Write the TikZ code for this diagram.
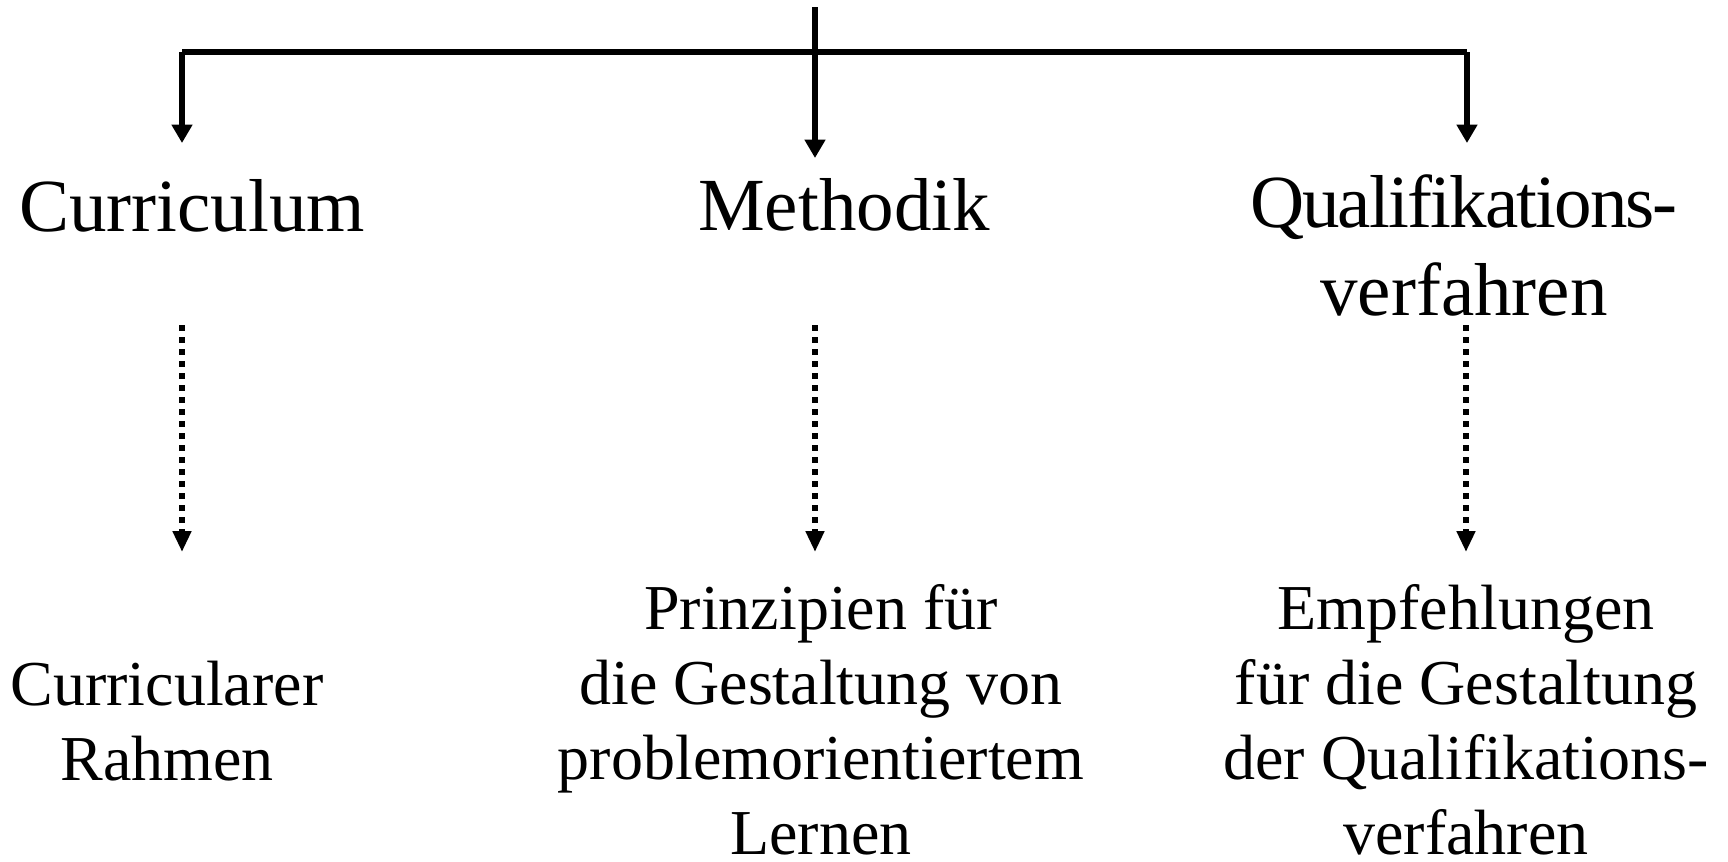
\documentclass[tikz,border=0pt]{standalone}
\usepackage{fontspec}
\setmainfont{Liberation Serif}
\usetikzlibrary{arrows.meta}
\begin{document}
\begin{tikzpicture}[x=0.25pt,y=-0.25pt,
  solidarrow/.style={line width=1.4pt,-{Triangle[width=5pt,length=4.6pt]}},
  dotarrow/.style={line width=1.5pt,dash pattern=on 1.5pt off 1.5pt,-{Triangle[width=4.4pt,length=5.2pt]}},
  bigtext/.style={inner sep=0pt,font=\fontsize{18.75pt}{22pt}\selectfont,align=center},
  smalltext/.style={inner sep=0pt,font=\fontsize{16pt}{18.75pt}\selectfont,align=center}]
\useasboundingbox (0,0) rectangle (1728,861);
% text nodes
\node[bigtext,anchor=base] (curr) at (192,231) {Curriculum};
\node[bigtext,anchor=base] (meth) at (844,230) {Methodik};
\node[bigtext,anchor=base] (qual) at (1464,315) {{\addfontfeature{LetterSpace=-2.5}Qualifikations-}\\verfahren};
\node[smalltext,anchor=base] (rahmen) at (167,780) {Curricularer\\Rahmen};
\node[smalltext,anchor=base] (prinz) at (821,854) {Prinzipien für\\die Gestaltung von\\problemorientiertem\\Lernen};
\node[smalltext,anchor=base] (empf) at (1466,854) {Empfehlungen\\für die Gestaltung\\der Qualifikations-\\verfahren};
% coordinates
\coordinate (top) at (815,7);
\coordinate (barL) at (182,52);
\coordinate (barR) at (1467,52);
\coordinate (tipC) at (182,143);
\coordinate (tipM) at (815,158);
\coordinate (tipQ) at (1467,143);
\coordinate (dC1) at (182,325); \coordinate (dC2) at (182,552);
\coordinate (dM1) at (815,325); \coordinate (dM2) at (815,552);
\coordinate (dQ1) at (1466,325); \coordinate (dQ2) at (1466,552);
% connectors
\draw[line width=1.4pt] (barL) -- (barR);
\draw[solidarrow] (top) -- (tipM);
\draw[solidarrow] (barL) -- (tipC);
\draw[solidarrow] (barR) -- (tipQ);
\draw[dotarrow] (dC1) -- (dC2);
\draw[dotarrow] (dM1) -- (dM2);
\draw[dotarrow] (dQ1) -- (dQ2);
\end{tikzpicture}
\end{document}
